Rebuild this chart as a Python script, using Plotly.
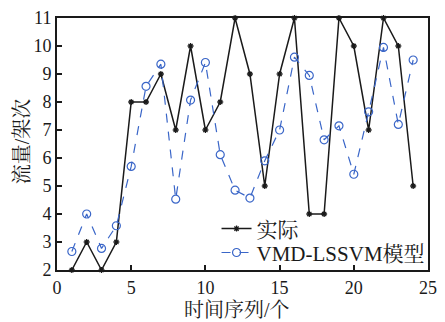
import plotly.graph_objects as go

x_vals = list(range(1, 25))
actual = [2, 3, 2, 3, 8, 8, 9, 7, 10, 7, 8, 11, 9, 5, 9, 11, 4, 4, 11, 10, 7, 11, 10, 5]
predicted = [2.66, 4.0, 2.77, 3.58, 5.7, 8.56, 9.35, 4.53, 8.07, 9.41, 6.12, 4.85, 4.57, 5.9,
             7.0, 9.6, 8.95, 6.65, 7.15, 5.42, 7.65, 9.95, 7.2, 9.5]
x_ticks = [0, 5, 10, 15, 20, 25]
y_ticks = [2, 3, 4, 5, 6, 7, 8, 9, 10, 11]

serif = "Liberation Serif, Times New Roman, Noto Serif CJK SC, Noto Sans CJK SC, serif"

fig = go.Figure()
fig.add_trace(go.Scatter(
    x=x_vals, y=actual, mode="lines+markers", name="实际", legend="legend", showlegend=True,
    line=dict(color="#1a1a1a", width=1.5),
    marker=dict(symbol="asterisk-open", size=5, color="#1a1a1a", line=dict(color="#1a1a1a", width=1.3)),
    cliponaxis=False,
))
fig.add_trace(go.Scatter(
    x=x_vals, y=predicted, mode="lines+markers", name="VMD-LSSVM模型", legend="legend2", showlegend=True,
    line=dict(color="#3a66c8", width=1.2, dash="dash"),
    marker=dict(symbol="circle-open", size=8, color="#3a66c8", line=dict(color="#3a66c8", width=1.2)),
    cliponaxis=False,
))

axis_common = dict(
    showline=True, linecolor="#1a1a1a", linewidth=2, mirror=True,
    ticks="inside", ticklen=5, tickcolor="#1a1a1a", tickwidth=1.5,
    showgrid=False, zeroline=False,
    tickfont=dict(family=serif, size=18, color="#1a1a1a"),
)
fig.update_xaxes(range=[0, 25], tickvals=x_ticks, **axis_common)
fig.update_yaxes(range=[2, 11], tickvals=y_ticks, **axis_common)

title_font = dict(family=serif, size=20, color="#1a1a1a")
fig.add_annotation(text="时间序列/个", xref="paper", yref="paper", x=0.484, y=-0.16,
                   xanchor="center", yanchor="middle", showarrow=False, font=title_font)
fig.add_annotation(text="流量/架次", xref="paper", yref="paper", x=-0.092, y=0.51,
                   xanchor="center", yanchor="middle", textangle=-90, showarrow=False, font=title_font)

leg_common = dict(xanchor="left", yanchor="middle", bgcolor="rgba(0,0,0,0)",
                  font=dict(family=serif, size=21, color="#1a1a1a"), itemwidth=30, visible=True)
fig.update_layout(
    width=445, height=322,
    margin=dict(l=57, r=8, t=15, b=52),
    plot_bgcolor="white", paper_bgcolor="white",
    showlegend=True,
    legend=dict(x=0.43, y=0.163, **leg_common),
    legend2=dict(x=0.43, y=0.068, **leg_common),
)
fig.write_html("out.html")
